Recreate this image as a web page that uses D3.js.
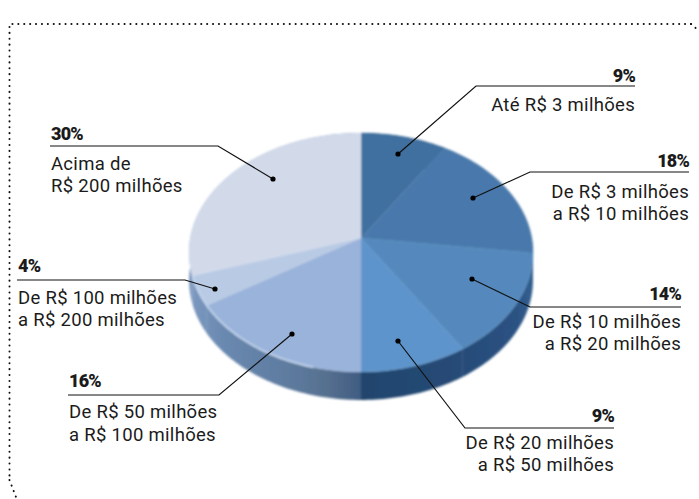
<!DOCTYPE html>
<html>
<head>
<meta charset="utf-8">
<script src="https://cdn.jsdelivr.net/npm/d3@7"></script>
<style>
    html, body { margin: 0; padding: 0; background: #fff; }
    svg { display: block; }
</style>
</head>
<body>
<script>
// values, clockwise from 12 o'clock
const shares = [9, 18, 14, 9, 16, 4, 30];
const percentLabels = ["9%", "18%", "14%", "9%", "16%", "4%", "30%"];
const firstLines = ["Até R$ 3 milhões", "De R$ 3 milhões", "De R$ 10 milhões", "De R$ 20 milhões", "De R$ 50 milhões", "De R$ 100 milhões", "Acima de"];
const secondLines = ["", "a R$ 10 milhões", "a R$ 20 milhões", "a R$ 50 milhões", "a R$ 100 milhões", "a R$ 200 milhões", "R$ 200 milhões"];
const topColors = ["#41709f", "#4a79ac", "#5489bd", "#5d94cb", "#9ab3da", "#b9cae4", "#d2daea"];

// where each callout sits (line start, line end, elbow, dot)
const callouts = [
    {anchor: "end", x0: 476, x1: 635, y: 86, dot: [398, 154], base: [82, 111, 0]},
    {anchor: "end", x0: 530, x1: 689, y: 172, dot: [473, 198], base: [167, 198, 220]},
    {anchor: "end", x0: 530, x1: 681, y: 307, dot: [472, 279], base: [300, 328, 350]},
    {anchor: "end", x0: 465, x1: 614, y: 428, dot: [398, 341], base: [422, 449, 471]},
    {anchor: "start", x0: 219, x1: 68, y: 395, dot: [292, 334], base: [387, 418, 441]},
    {anchor: "start", x0: 185, x1: 17, y: 280, dot: [215, 289], base: [272, 304, 326]},
    {anchor: "start", x0: 218, x1: 50, y: 146, dot: [273, 179], base: [140, 170, 192]}
];

const width = 699;
const height = 499;

// pie seen in perspective: the apex is above the middle of the ellipse
const apex = {x: 361, y: 238};
const radiusX = 170.7;
const radiusY = 117.7;
const tilt = 0.1213;
const depth = 28;

function project(angle, r = 1) {
    const u = Math.sin(angle) * r;
    const v = Math.cos(angle) * r;
    const d = 1 + tilt * v;
    return [apex.x + radiusX * u / d, apex.y - radiusY * v / d];
}

function rim(a, b, dy = 0) {
    const n = Math.max(2, Math.ceil((b - a) / 0.02));
    return d3.range(n + 1).map(i => {
        const p = project(a + (b - a) * i / n);
        return [p[0], p[1] + dy];
    });
}

const svg = d3.select("body")
    .append("svg")
    .attr("width", width)
    .attr("height", height)
    .attr("viewBox", [0, 0, width, height]);

const defs = svg.append("defs");

defs.append("filter")
    .attr("id", "soft")
    .attr("x", "-5%").attr("y", "-5%").attr("width", "110%").attr("height", "110%")
    .append("feGaussianBlur")
    .attr("stdDeviation", 0.8);

// shading of the side wall, with the hard break under the 12/6 o'clock line
const wallGrad = defs.append("linearGradient")
    .attr("id", "wall")
    .attr("gradientUnits", "userSpaceOnUse")
    .attr("x1", 189).attr("x2", 533).attr("y1", 0).attr("y2", 0);
[[0, "#7d99c0"], [0.1, "#6a89b0"], [0.3, "#5d7a9e"], [0.4, "#56708f"], [0.5, "#3f5c82"],
    [0.5, "#24456d"], [0.75, "#254a75"], [0.95, "#2b5282"], [1, "#33608f"]]
    .forEach(s => wallGrad.append("stop").attr("offset", s[0]).attr("stop-color", s[1]));

const slices = d3.pie().sort(null).value(d => d)(shares);
const line = d3.line();

// dotted frame, open on the right and at the bottom
const framePoints = [[691, 24], [9.5, 24], [9.5, 480]];
const frame = svg.append("g")
    .attr("fill", "none")
    .attr("stroke", "#111")
    .attr("stroke-width", 2)
    .attr("stroke-linecap", "round")
    .attr("stroke-dasharray", "0.1 5.8");
frame.append("path").attr("d", line(framePoints));
frame.append("path").attr("d", line([[691, 24], [698, 30]]));
frame.append("path").attr("d", line([[9.5, 480], [16, 497]]));

const pie = svg.append("g").attr("filter", "url(#soft)");

pie.selectAll("path.wall")
    .data(slices)
    .join("path")
    .attr("class", "wall")
    .attr("fill", "url(#wall)")
    .attr("d", d => line([...rim(d.startAngle, d.endAngle), ...rim(d.startAngle, d.endAngle, depth).reverse()]) + "Z");

pie.selectAll("path.top")
    .data(slices)
    .join("path")
    .attr("class", "top")
    .attr("fill", (d, i) => topColors[i])
    .attr("stroke", (d, i) => topColors[i])
    .attr("stroke-width", 0.4)
    .attr("d", d => line([[apex.x, apex.y], ...rim(d.startAngle, d.endAngle)]) + "Z");

// light edge along the paler slices
pie.append("path")
    .attr("fill", "none")
    .attr("stroke", "#c9dbf1")
    .attr("stroke-width", 1.6)
    .attr("d", line(rim(slices[4].startAngle + 0.25, slices[5].endAngle)));

const labels = svg.append("g").attr("fill", "#1b1b1b");

callouts.forEach((c, i) => {
    const g = labels.append("g");
    g.append("path")
        .attr("fill", "none")
        .attr("stroke", "#111")
        .attr("stroke-width", 1.2)
        .attr("d", line([[c.x1, c.y], [c.x0, c.y], c.dot]));
    g.append("circle")
        .attr("cx", c.dot[0])
        .attr("cy", c.dot[1])
        .attr("r", 2.6)
        .attr("fill", "#000");
    const tx = c.anchor === "end" ? c.x1 : c.x1 + 1;
    g.append("text")
        .attr("x", tx)
        .attr("y", c.base[0])
        .attr("text-anchor", c.anchor)
        .style("font", "900 18px Roboto, sans-serif")
        .style("letter-spacing", "-0.8px")
        .text(percentLabels[i]);
    [firstLines[i], secondLines[i]].forEach((t, j) => {
        if (!t) return;
        g.append("text")
            .attr("x", tx)
            .attr("y", c.base[j + 1])
            .attr("text-anchor", c.anchor)
            .style("font", "18.5px Roboto, sans-serif")
            .style("letter-spacing", "0.3px")
            .text(t);
    });
});
</script>
</body>
</html>
